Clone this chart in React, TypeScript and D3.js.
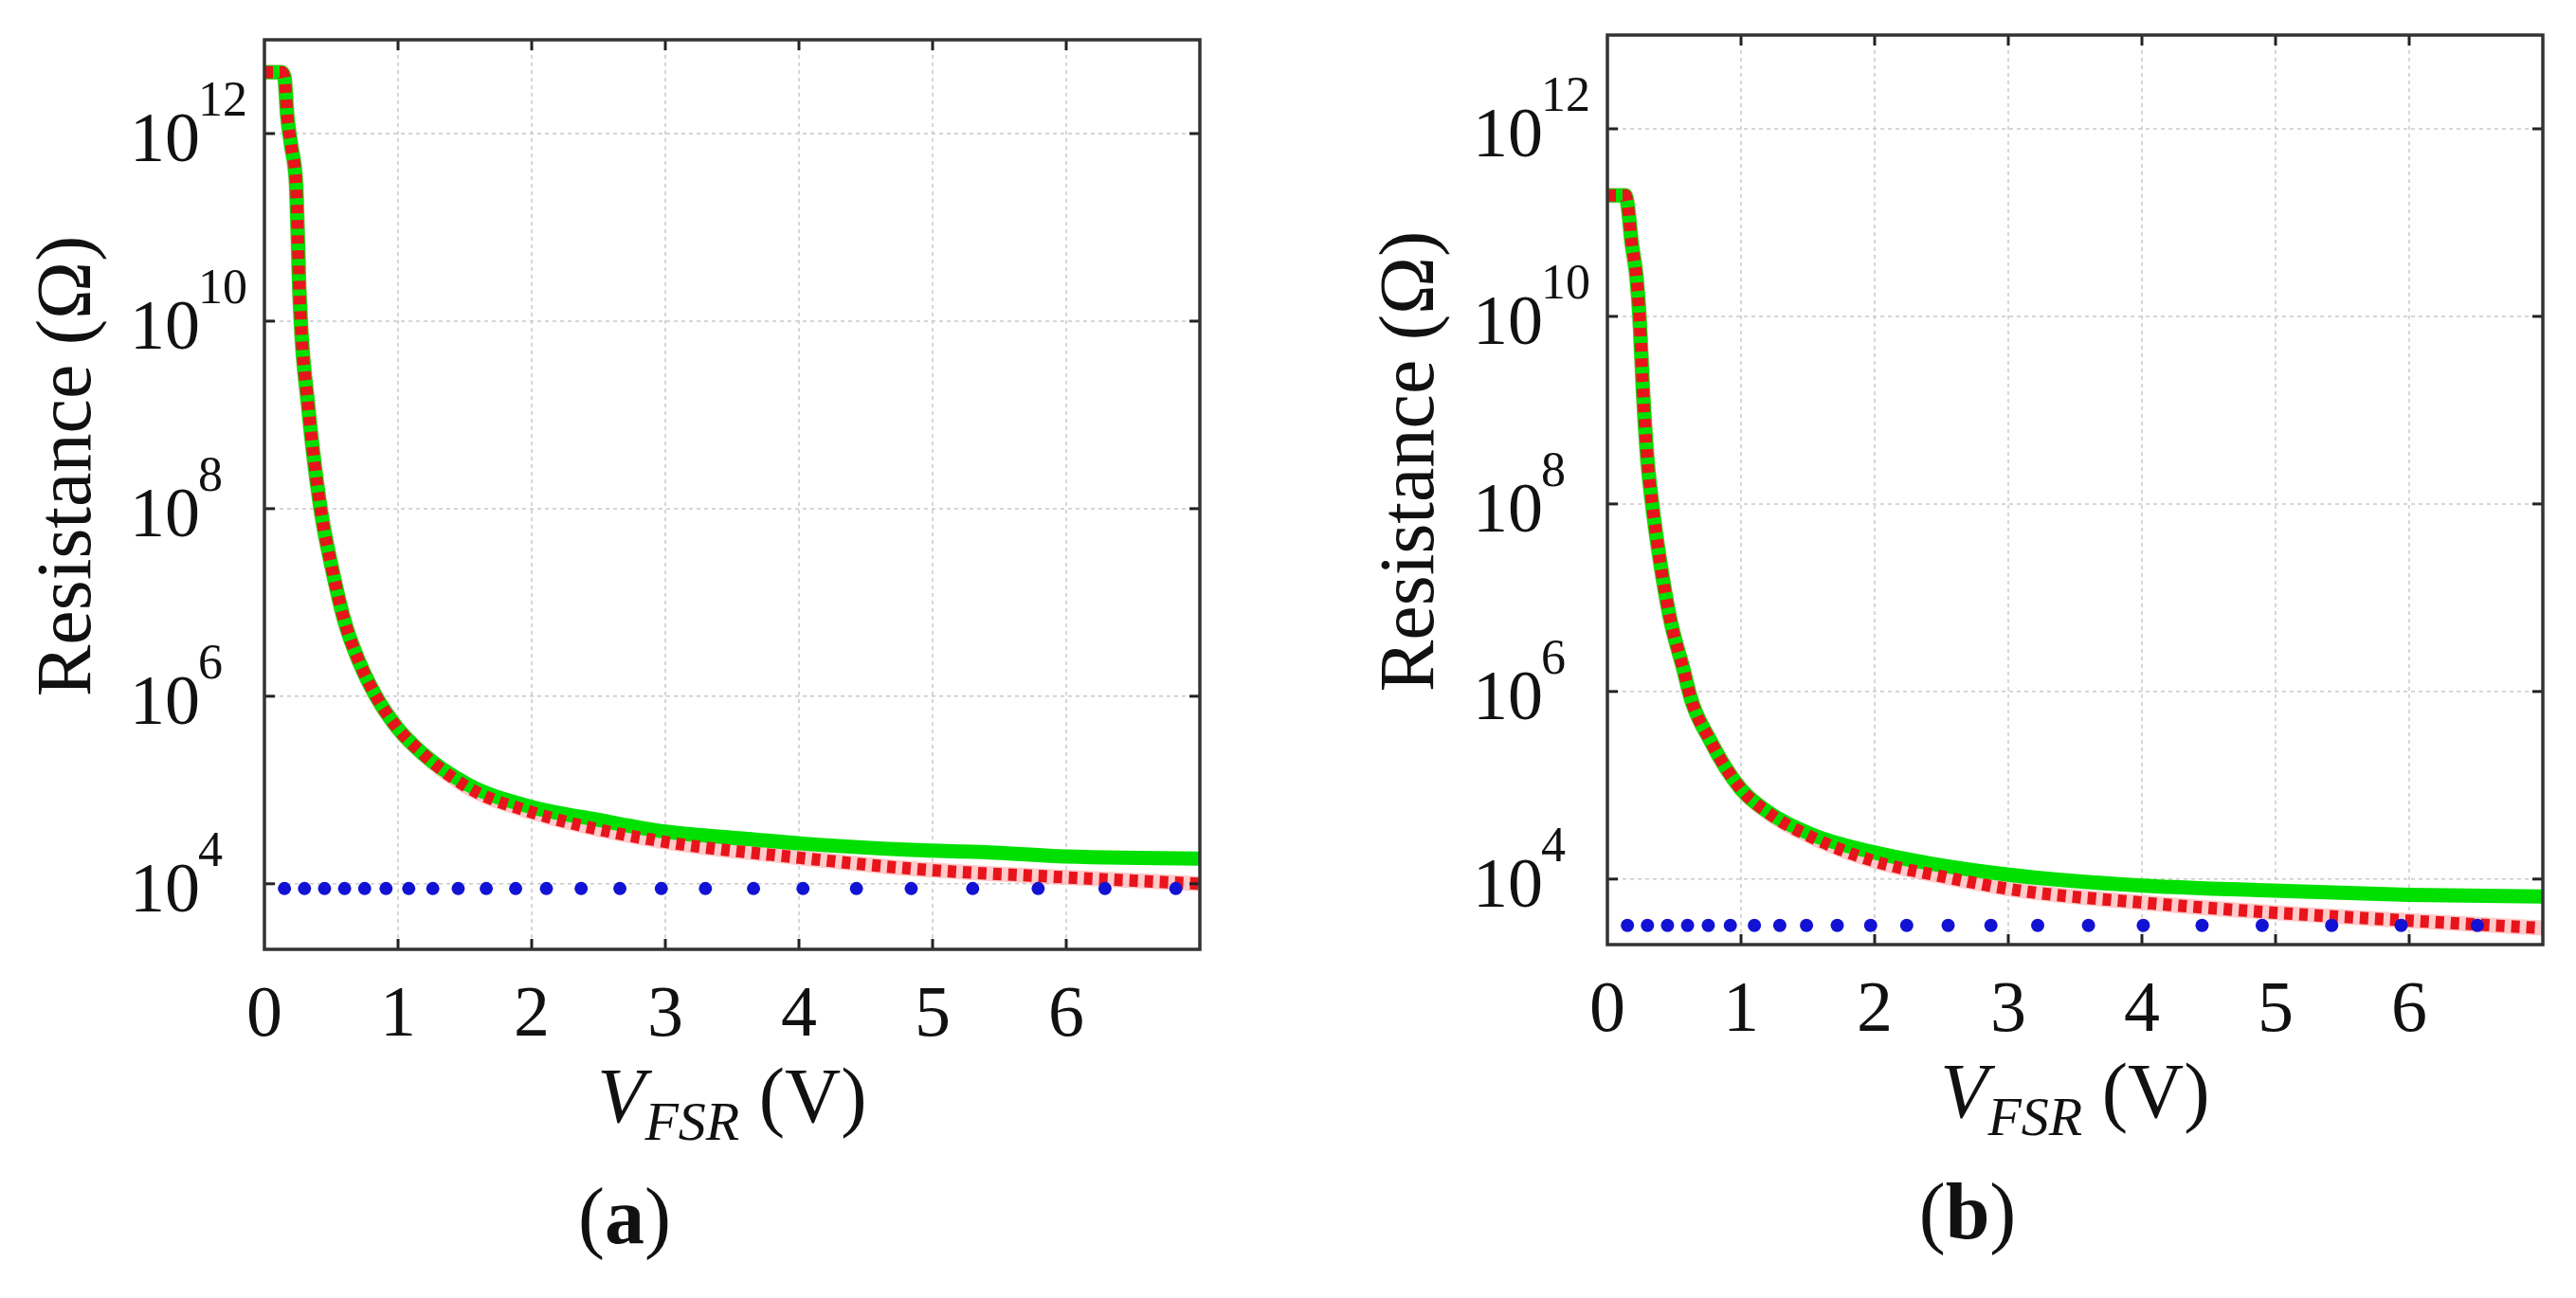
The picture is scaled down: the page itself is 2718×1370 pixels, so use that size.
import * as d3 from "d3"

// voltage (V) / resistance (ohm) pairs
const curveA_red: [number, number][] = [
  [0, 4.5e12], [0.13, 4.5e12], [0.15, 4.0e12], [0.17, 1.6e12], [0.2, 7.5e11],
  [0.235, 3.2e11], [0.25, 7.8e10], [0.26, 2.4e10], [0.272, 1.0e10], [0.326, 1.3e9],
  [0.42, 1.0e8], [0.506, 2.3e7], [0.593, 6.8e6], [0.716, 2.2e6], [0.835, 1.0e6],
  [1.0, 4.5e5], [1.19, 2.4e5], [1.52, 1.07e5], [2.0, 5.8e4], [2.5, 3.8e4],
  [3.0, 2.8e4], [4.0, 1.9e4], [4.84, 1.45e4], [6.0, 1.17e4], [7.0, 1.0e4],
]
const curveA_green: [number, number][] = [
  [0, 4.5e12], [0.13, 4.5e12], [0.15, 4.0e12], [0.17, 1.6e12], [0.2, 7.5e11],
  [0.235, 3.2e11], [0.25, 7.8e10], [0.26, 2.4e10], [0.272, 1.0e10], [0.326, 1.3e9],
  [0.42, 1.0e8], [0.506, 2.3e7], [0.593, 6.8e6], [0.716, 2.2e6], [0.835, 1.0e6],
  [1.0, 4.5e5], [1.19, 2.4e5], [1.52, 1.15e5], [2.0, 6.6e4], [2.5, 4.8e4],
  [3.0, 3.6e4], [3.5, 3.1e4], [4.0, 2.7e4], [4.84, 2.3e4], [5.47, 2.15e4],
  [6.0, 1.95e4], [7.0, 1.86e4],
]
const dotsA_V = [
  0.15, 0.3, 0.45, 0.6, 0.75, 0.91, 1.08, 1.26, 1.45, 1.66, 1.88, 2.11, 2.37,
  2.66, 2.97, 3.3, 3.66, 4.03, 4.43, 4.84, 5.3, 5.79, 6.29, 6.82,
]
const dotsA_R = 8.9e3

const curveB_red: [number, number][] = [
  [0, 1.95e11], [0.135, 1.95e11], [0.15, 1.6e11], [0.182, 6.0e10], [0.218, 2.6e10],
  [0.24, 1.0e10], [0.265, 1.74e9], [0.3, 2.9e8], [0.335, 1.0e8], [0.395, 2.4e7],
  [0.466, 6.3e6], [0.572, 1.66e6], [0.62, 8.9e5], [0.77, 3.0e5], [1.0, 9.1e4],
  [1.22, 4.9e4], [1.54, 2.75e4], [1.98, 1.58e4], [2.5, 1.07e4], [2.99, 7.9e3],
  [4.01, 5.6e3], [4.87, 4.5e3], [6.0, 3.6e3], [7.0, 3.0e3],
]
const curveB_green: [number, number][] = [
  [0, 1.95e11], [0.135, 1.95e11], [0.15, 1.6e11], [0.182, 6.0e10], [0.218, 2.6e10],
  [0.24, 1.0e10], [0.265, 1.74e9], [0.3, 2.9e8], [0.335, 1.0e8], [0.395, 2.4e7],
  [0.466, 6.3e6], [0.572, 1.66e6], [0.62, 8.9e5], [0.77, 3.0e5], [1.0, 9.1e4],
  [1.22, 5.0e4], [1.54, 2.95e4], [1.98, 1.95e4], [2.5, 1.4e4], [2.99, 1.12e4],
  [4.01, 8.5e3], [4.87, 7.6e3], [6.0, 6.8e3], [7.0, 6.5e3],
]
const dotsB_V = [
  0.15, 0.3, 0.45, 0.6, 0.755, 0.92, 1.1, 1.29, 1.49, 1.72, 1.97, 2.24, 2.55,
  2.87, 3.22, 3.6, 4.01, 4.45, 4.9, 5.42, 5.94, 6.51,
]
const dotsB_R = 3.2e3

const xTicks = [0, 1, 2, 3, 4, 5, 6]
const yExponents = [4, 6, 8, 10, 12]

const FONT = "'Liberation Serif', 'Times New Roman', serif"

type PanelProps = {
  id: string
  letter: string
  left: number
  top: number
  red: [number, number][]
  green: [number, number][]
  dotsV: number[]
  dotsR: number
}

const Panel = ({ id, letter, left, top, red, green, dotsV, dotsR }: PanelProps) => {
  const W = 987
  const H = 960
  const right = left + W
  const bottom = top + H

  const x = d3.scaleLinear().domain([0, 7]).range([left, right])
  const y = d3.scaleLog().domain([2e3, 1e13]).range([bottom, top])

  const line = d3
    .line<[number, number]>()
    .x((d) => x(d[0]))
    .y((d) => y(d[1]))
    .curve(d3.curveMonotoneX)

  const tick = 11
  const cx = (left + right) / 2
  const cy = (top + bottom) / 2

  return (
    <g>
      <defs>
        <clipPath id={`clip-${id}`}>
          <rect x={left} y={top} width={W} height={H} />
        </clipPath>
      </defs>

      {/* grid */}
      {xTicks.slice(1).map((t) => (
        <line key={`gx${t}`} x1={x(t)} x2={x(t)} y1={top} y2={bottom}
          stroke="#c9c9c9" strokeWidth={1.5} strokeDasharray="4,4" />
      ))}
      {yExponents.map((e) => (
        <line key={`gy${e}`} x1={left} x2={right} y1={y(10 ** e)} y2={y(10 ** e)}
          stroke="#c9c9c9" strokeWidth={1.5} strokeDasharray="4,4" />
      ))}

      {/* curves */}
      <g clipPath={`url(#clip-${id})`}>
        <path d={line(red) ?? ""} fill="none" stroke="#ffb4b4" strokeOpacity={0.7} strokeWidth={16} />
        <path d={line(green) ?? ""} fill="none" stroke="#00e000" strokeWidth={15} />
        <path d={line(red) ?? ""} fill="none" stroke="#e8141c" strokeWidth={13}
          strokeDasharray="9,7" />
        {dotsV.map((v, i) => (
          <circle key={i} cx={x(v)} cy={y(dotsR)} r={7} fill="#1212d4" />
        ))}
      </g>

      {/* ticks */}
      {xTicks.slice(1).map((t) => (
        <g key={`tx${t}`} stroke="#222" strokeWidth={3}>
          <line x1={x(t)} x2={x(t)} y1={bottom} y2={bottom - tick} />
          <line x1={x(t)} x2={x(t)} y1={top} y2={top + tick} />
        </g>
      ))}
      {yExponents.map((e) => (
        <g key={`ty${e}`} stroke="#222" strokeWidth={3}>
          <line x1={left} x2={left + tick} y1={y(10 ** e)} y2={y(10 ** e)} />
          <line x1={right} x2={right - tick} y1={y(10 ** e)} y2={y(10 ** e)} />
        </g>
      ))}

      {/* frame */}
      <rect x={left} y={top} width={W} height={H} fill="none" stroke="#333" strokeWidth={3.5} />

      {/* tick labels */}
      {xTicks.map((t) => (
        <text key={`lx${t}`} x={x(t)} y={bottom + 91} textAnchor="middle"
          fontFamily={FONT} fontSize={76} fill="#111">
          {t}
        </text>
      ))}
      {yExponents.map((e) => (
        <g key={`ly${e}`} fontFamily={FONT} fill="#111">
          <text x={left - 142} y={y(10 ** e) + 29} fontSize={74}>10</text>
          <text x={left - 70} y={y(10 ** e) - 19} fontSize={52}>{e}</text>
        </g>
      ))}

      {/* axis titles */}
      <text transform={`translate(${left - 184},${cy - 30}) rotate(-90)`}
        textAnchor="middle" fontFamily={FONT} fontSize={82} fill="#111">
        Resistance (Ω)
      </text>
      <text x={cx} y={bottom + 182} textAnchor="middle" fontFamily={FONT} fontSize={82} fill="#111">
        <tspan fontStyle="italic">V</tspan>
        <tspan fontStyle="italic" fontSize={58} dy={19}>FSR</tspan>
        <tspan dy={-19}> (V)</tspan>
      </text>
      <text x={left + 380} y={bottom + 310} textAnchor="middle" fontFamily={FONT} fontSize={84} fill="#111">
        (<tspan fontWeight="bold">{letter}</tspan>)
      </text>
    </g>
  )
}

export default function App() {
  return (
    <svg width={2718} height={1370} style={{ position: "absolute", left: 0, top: 0, background: "#fff" }}>
      <rect width={2718} height={1370} fill="#fff" />
      <Panel id="a" letter="a" left={279} top={42} red={curveA_red} green={curveA_green}
        dotsV={dotsA_V} dotsR={dotsA_R} />
      <Panel id="b" letter="b" left={1696} top={37} red={curveB_red} green={curveB_green}
        dotsV={dotsB_V} dotsR={dotsB_R} />
    </svg>
  )
}
